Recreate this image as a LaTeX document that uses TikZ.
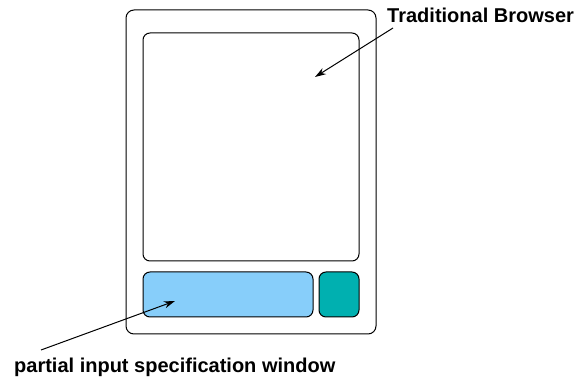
\documentclass[tikz,border=0pt]{standalone}
\usepackage{fontspec}
\setmainfont{Liberation Sans}
\usetikzlibrary{arrows.meta}
\definecolor{pisw}{RGB}{135,206,250}
\definecolor{tealbtn}{RGB}{0,176,176}
\begin{document}
\begin{tikzpicture}[x=1pt,y=-1pt,
  frame/.style={draw=black,line width=1pt,rounded corners=8pt,inner sep=0pt},
  lbl/.style={font=\fontsize{20}{24}\selectfont\bfseries,inner sep=0pt},
  arr/.style={draw=black,line width=1pt,-{Stealth[length=11pt,width=7pt]}}]
\useasboundingbox (0,0) rectangle (581,379);
\node[frame,minimum width=250pt,minimum height=324pt] (outer) at (251,172) {};
\node[frame,rounded corners=7pt,minimum width=216pt,minimum height=228pt] (browser) at (251,147) {};
\node[frame,rounded corners=7pt,fill=pisw,minimum width=170pt,minimum height=45pt] (pisw) at (228,294.5) {};
\node[frame,rounded corners=7pt,fill=tealbtn,minimum width=40pt,minimum height=45pt] (btn) at (339,294.5) {};
\node[lbl,anchor=base west] (tb) at (387,23) {Traditional Browser};
\node[lbl,anchor=base west] (pl) at (14,372) {partial input specification window};
\coordinate (s1) at (393,28);
\coordinate (t1) at (315,77);
\coordinate (s2) at (41,350);
\coordinate (t2) at (175,301);
\draw[arr] (s1) -- (t1);
\draw[arr] (s2) -- (t2);
\end{tikzpicture}
\end{document}
